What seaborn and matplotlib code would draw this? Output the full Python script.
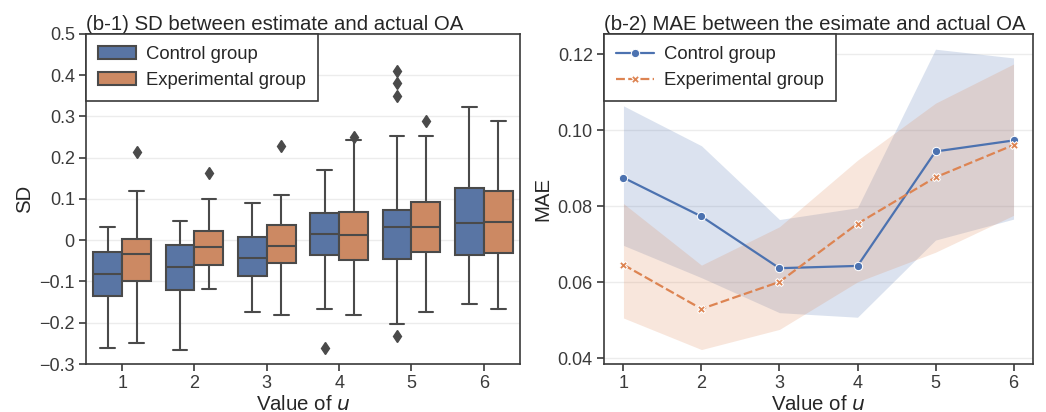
import pandas as pd
import seaborn as sns
import matplotlib
matplotlib.use("Agg")
import matplotlib.pyplot as plt
from matplotlib.patches import Patch

# values of u
u_values = [1, 2, 3, 4, 5, 6]
groups = ["Control group", "Experimental group"]

# (b-1) box stats, one entry per u
ctrl_whislo = [-0.260, -0.265, -0.175, -0.167, -0.204, -0.155]
ctrl_q1 = [-0.136, -0.120, -0.087, -0.036, -0.046, -0.036]
ctrl_med = [-0.082, -0.066, -0.042, 0.016, 0.032, 0.043]
ctrl_q3 = [-0.029, -0.012, 0.009, 0.066, 0.074, 0.126]
ctrl_whishi = [0.031, 0.047, 0.091, 0.170, 0.252, 0.324]
ctrl_fliers = [[], [], [], [-0.262], [0.411, 0.381, 0.349, -0.231], []]

exp_whislo = [-0.249, -0.118, -0.180, -0.180, -0.173, -0.167]
exp_q1 = [-0.099, -0.060, -0.054, -0.049, -0.028, -0.032]
exp_med = [-0.033, -0.017, -0.013, 0.012, 0.032, 0.045]
exp_q3 = [0.003, 0.023, 0.036, 0.068, 0.093, 0.120]
exp_whishi = [0.119, 0.100, 0.109, 0.244, 0.252, 0.290]
exp_fliers = [[0.213], [0.163], [0.229], [0.250], [0.290], []]

# (b-2) MAE mean and band
ctrl_mae = [0.0875, 0.0773, 0.0637, 0.0643, 0.0944, 0.0973]
ctrl_lo = [0.0697, 0.0612, 0.0520, 0.0508, 0.0711, 0.0766]
ctrl_hi = [0.1064, 0.0959, 0.0765, 0.0796, 0.1213, 0.1190]
exp_mae = [0.0646, 0.0530, 0.0601, 0.0754, 0.0876, 0.0961]
exp_lo = [0.0506, 0.0423, 0.0476, 0.0601, 0.0679, 0.0776]
exp_hi = [0.0807, 0.0645, 0.0746, 0.0921, 0.1071, 0.1174]

sns.set_theme(style="ticks")
plt.rcParams["font.family"] = ["Liberation Sans", "DejaVu Sans"]
plt.rcParams["axes.edgecolor"] = "#3a3a3a"
plt.rcParams["xtick.color"] = "#3a3a3a"
plt.rcParams["ytick.color"] = "#3a3a3a"

pal = sns.color_palette("deep")
box_cols = [sns.desaturate(pal[0], 0.75), sns.desaturate(pal[1], 0.75)]
line_gray = "#4a4a4a"

fig = plt.figure(figsize=(10.46, 4.12), dpi=100)
ax1 = fig.add_axes([0.0822, 0.1165, 0.4149, 0.8010])
ax2 = fig.add_axes([0.5774, 0.1165, 0.4102, 0.8010])

# ---- (b-1) boxplot
def make_stats(lo, q1, med, q3, hi, fl):
    return [dict(whislo=a, q1=b, med=c, q3=d, whishi=e, fliers=f)
            for a, b, c, d, e, f in zip(lo, q1, med, q3, hi, fl)]

all_stats = [
    make_stats(ctrl_whislo, ctrl_q1, ctrl_med, ctrl_q3, ctrl_whishi, ctrl_fliers),
    make_stats(exp_whislo, exp_q1, exp_med, exp_q3, exp_whishi, exp_fliers),
]
for k, stats in enumerate(all_stats):
    pos = [i - 0.2 + 0.4 * k for i in range(len(u_values))]
    ax1.bxp(stats, positions=pos, widths=0.4, patch_artist=True, manage_ticks=False,
            boxprops=dict(facecolor=box_cols[k], edgecolor=line_gray, linewidth=1.5),
            medianprops=dict(color=line_gray, linewidth=1.5),
            whiskerprops=dict(color=line_gray, linewidth=1.5),
            capprops=dict(color=line_gray, linewidth=1.5),
            flierprops=dict(marker="d", markerfacecolor=line_gray, markeredgecolor=line_gray,
                            markersize=6))

ax1.set_xlim(-0.5, len(u_values) - 0.5)
ax1.set_xticks(range(len(u_values)))
ax1.set_xticklabels([str(v) for v in u_values])
ax1.set_ylim(-0.3, 0.5)
ax1.set_yticks([-0.3, -0.2, -0.1, 0, 0.1, 0.2, 0.3, 0.4, 0.5])
ax1.set_yticklabels(["\u22120.3", "\u22120.2", "\u22120.1", "0", "0.1", "0.2", "0.3", "0.4", "0.5"])
ax1.yaxis.grid(True, color="#ececec", linewidth=1)
ax1.set_axisbelow(True)
ax1.set_xlabel("Value of $\\it{u}$", fontsize=14.7, color="#262626", labelpad=2)
ax1.set_ylabel("SD", fontsize=14.7, color="#262626")
ax1.set_title("(b-1) SD between estimate and actual OA", fontsize=14.7, loc="left",
              color="#262626", pad=3)
handles = [Patch(facecolor=box_cols[0], edgecolor=line_gray, linewidth=1.5),
           Patch(facecolor=box_cols[1], edgecolor=line_gray, linewidth=1.5)]
leg_kw = dict(loc="upper left", borderaxespad=0, fancybox=False, framealpha=1,
              edgecolor="#3a3a3a", fontsize=13.3, handlelength=2.05,
              handletextpad=0.55, borderpad=0.65)
leg1 = ax1.legend(handles, groups, **leg_kw)
leg1.get_frame().set_linewidth(1.2)

# ---- (b-2) line plot
df = pd.DataFrame({
    "u": u_values * 2,
    "MAE": ctrl_mae + exp_mae,
    "group": [groups[0]] * 6 + [groups[1]] * 6,
})
sns.lineplot(data=df, x="u", y="MAE", hue="group", style="group", markers=["o", "X"],
             dashes=[(None, None), (4, 1.5)], palette=pal[:2], ax=ax2,
             markersize=6, linewidth=1.6)
ax2.fill_between(u_values, ctrl_lo, ctrl_hi, color=pal[0], alpha=0.2, linewidth=0)
ax2.fill_between(u_values, exp_lo, exp_hi, color=pal[1], alpha=0.2, linewidth=0)

ax2.set_xlim(0.75, 6.25)
ax2.set_xticks(u_values)
ax2.set_ylim(0.0385, 0.1253)
ax2.set_yticks([0.04, 0.06, 0.08, 0.10, 0.12])
ax2.set_yticklabels(["0.04", "0.06", "0.08", "0.10", "0.12"])
ax2.yaxis.grid(True, color="#ececec", linewidth=1)
ax2.set_axisbelow(True)
ax2.set_xlabel("Value of $\\it{u}$", fontsize=14.7, color="#262626", labelpad=2)
ax2.set_ylabel("MAE", fontsize=14.7, color="#262626")
ax2.set_title("(b-2) MAE between the esimate and actual OA", fontsize=14.7, loc="left",
              color="#262626", pad=3)
h, l = ax2.get_legend_handles_labels()
leg2 = ax2.legend(h, l, **leg_kw)
leg2.get_frame().set_linewidth(1.2)

for ax in (ax1, ax2):
    ax.tick_params(labelsize=13, length=5, width=1.2, pad=3)
    for s in ax.spines.values():
        s.set_linewidth(1.2)

fig.savefig("out.png", dpi=100)
